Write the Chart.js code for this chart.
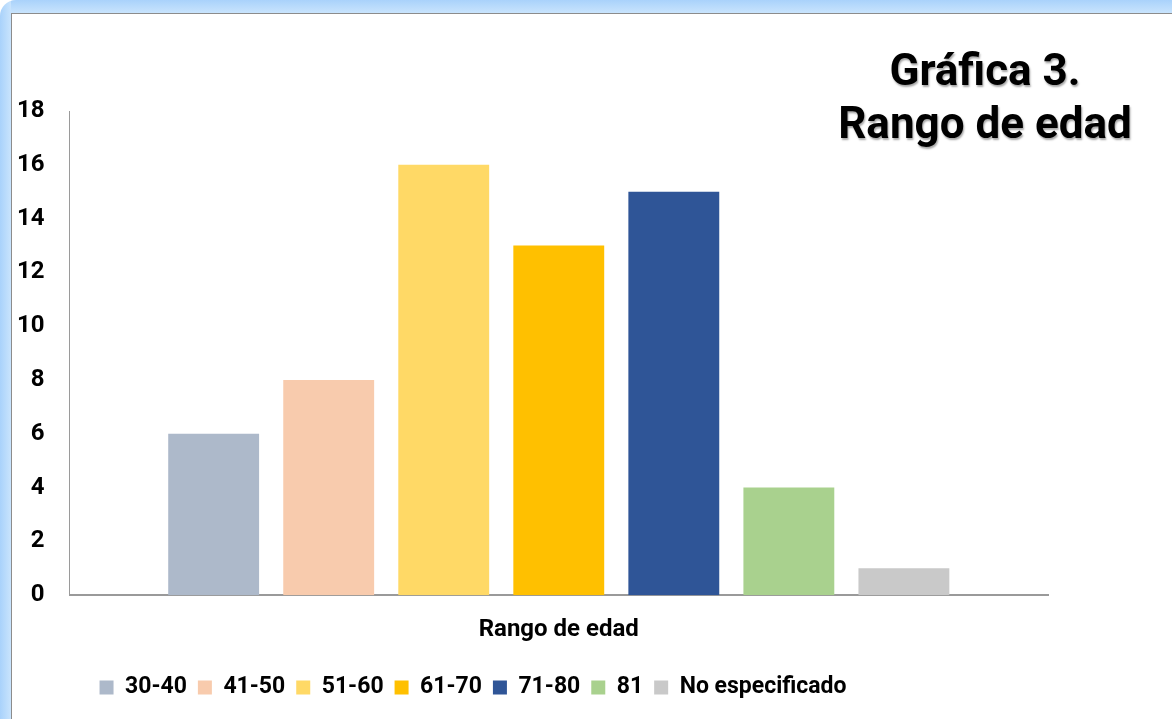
<!DOCTYPE html>
<html lang="es">
<head>
  <meta charset="UTF-8" />
  <title>Gráfica 3. Rango de edad</title>
  <script src="https://cdn.jsdelivr.net/npm/chart.js"></script>
  <style>
    html, body {
      margin: 0;
      padding: 0;
      width: 1172px;
      height: 719px;
      overflow: hidden;
      background: #fff;
      font-family: Roboto, sans-serif;
    }

    /* marco azul claro del gráfico */
    .frame {
      position: absolute;
      left: 0;
      top: 0;
      width: 1220px;
      height: 780px;
      border-radius: 16px;
      background: linear-gradient(90deg, #a9d2fb 0px, #c9e4fd 11px, transparent 11px),
                  linear-gradient(180deg, #a9d2fb 0px, #c9e4fd 13px, transparent 13px);
    }

    .inner {
      position: absolute;
      left: 11px;
      top: 13px;
      width: 1200px;
      height: 760px;
      background: #fff;
      border-left: 1px solid #8c8c8c;
      border-top: 1px solid #8c8c8c;
    }

    .title {
      position: absolute;
      left: 800px;
      top: 44px;
      width: 370px;
      text-align: center;
      font-weight: 700;
      font-size: 44px;
      line-height: 53px;
      color: #000;
      text-shadow: 1px 2px 2px rgba(0, 0, 0, 0.35);
    }

    #chartBox {
      position: absolute;
      left: 0;
      top: 0;
      width: 1172px;
      height: 719px;
    }
  </style>
</head>
<body>
  <div class="frame"><div class="inner"></div></div>
  <div id="chartBox"><canvas id="myChart"></canvas></div>
  <div class="title">Gráfica 3.<br />Rango de edad</div>

  <script>
    const categories = ['Rango de edad'];
    const seriesNames = ['30-40', '41-50', '51-60', '61-70', '71-80', '81', 'No especificado'];
    const seriesValues = [6, 8, 16, 13, 15, 4, 1];
    const seriesColors = ['#adb9ca', '#f8cbad', '#ffd966', '#ffc000', '#2f5597', '#a9d18e', '#c9c9c9'];

    const datasets = seriesNames.map((name, i) => ({
      label: name,
      data: [seriesValues[i]],
      backgroundColor: seriesColors[i],
      borderWidth: 0,
      categoryPercentage: 0.823,
      barPercentage: 0.79
    }));

    const axisColor = '#9a9a9a';
    const boldFont = size => ({ family: 'Roboto, sans-serif', weight: 'bold', size: size });

    // desplaza la leyenda hacia la derecha, bajo las barras
    const legendShift = {
      id: 'legendShift',
      afterLayout(chart) {
        chart.legend.left += 19;
        chart.legend.right += 19;
      }
    };

    const ctx = document.getElementById('myChart').getContext('2d');
    const myChart = new Chart(ctx, {
      type: 'bar',
      data: {
        labels: categories,
        datasets: datasets
      },
      plugins: [legendShift],
      options: {
        responsive: true,
        maintainAspectRatio: false,
        animation: false,
        layout: {
          padding: { left: -8, right: 124, top: 111, bottom: 10 }
        },
        scales: {
          x: {
            grid: { display: false, drawTicks: false },
            border: { display: true, color: axisColor, width: 2 },
            ticks: { color: '#000', font: boldFont(24), padding: 20.5 }
          },
          y: {
            min: 0,
            max: 18,
            grid: { display: false, drawTicks: false },
            border: { display: true, color: axisColor, width: 1 },
            ticks: { stepSize: 2, color: '#000', font: boldFont(24), padding: 25 }
          }
        },
        plugins: {
          legend: {
            display: true,
            position: 'bottom',
            align: 'start',
            fullSize: false,
            labels: {
              boxWidth: 14,
              boxHeight: 14,
              padding: 11,
              color: '#000',
              font: boldFont(23)
            }
          },
          tooltip: { enabled: false }
        }
      }
    });
  </script>
</body>
</html>
